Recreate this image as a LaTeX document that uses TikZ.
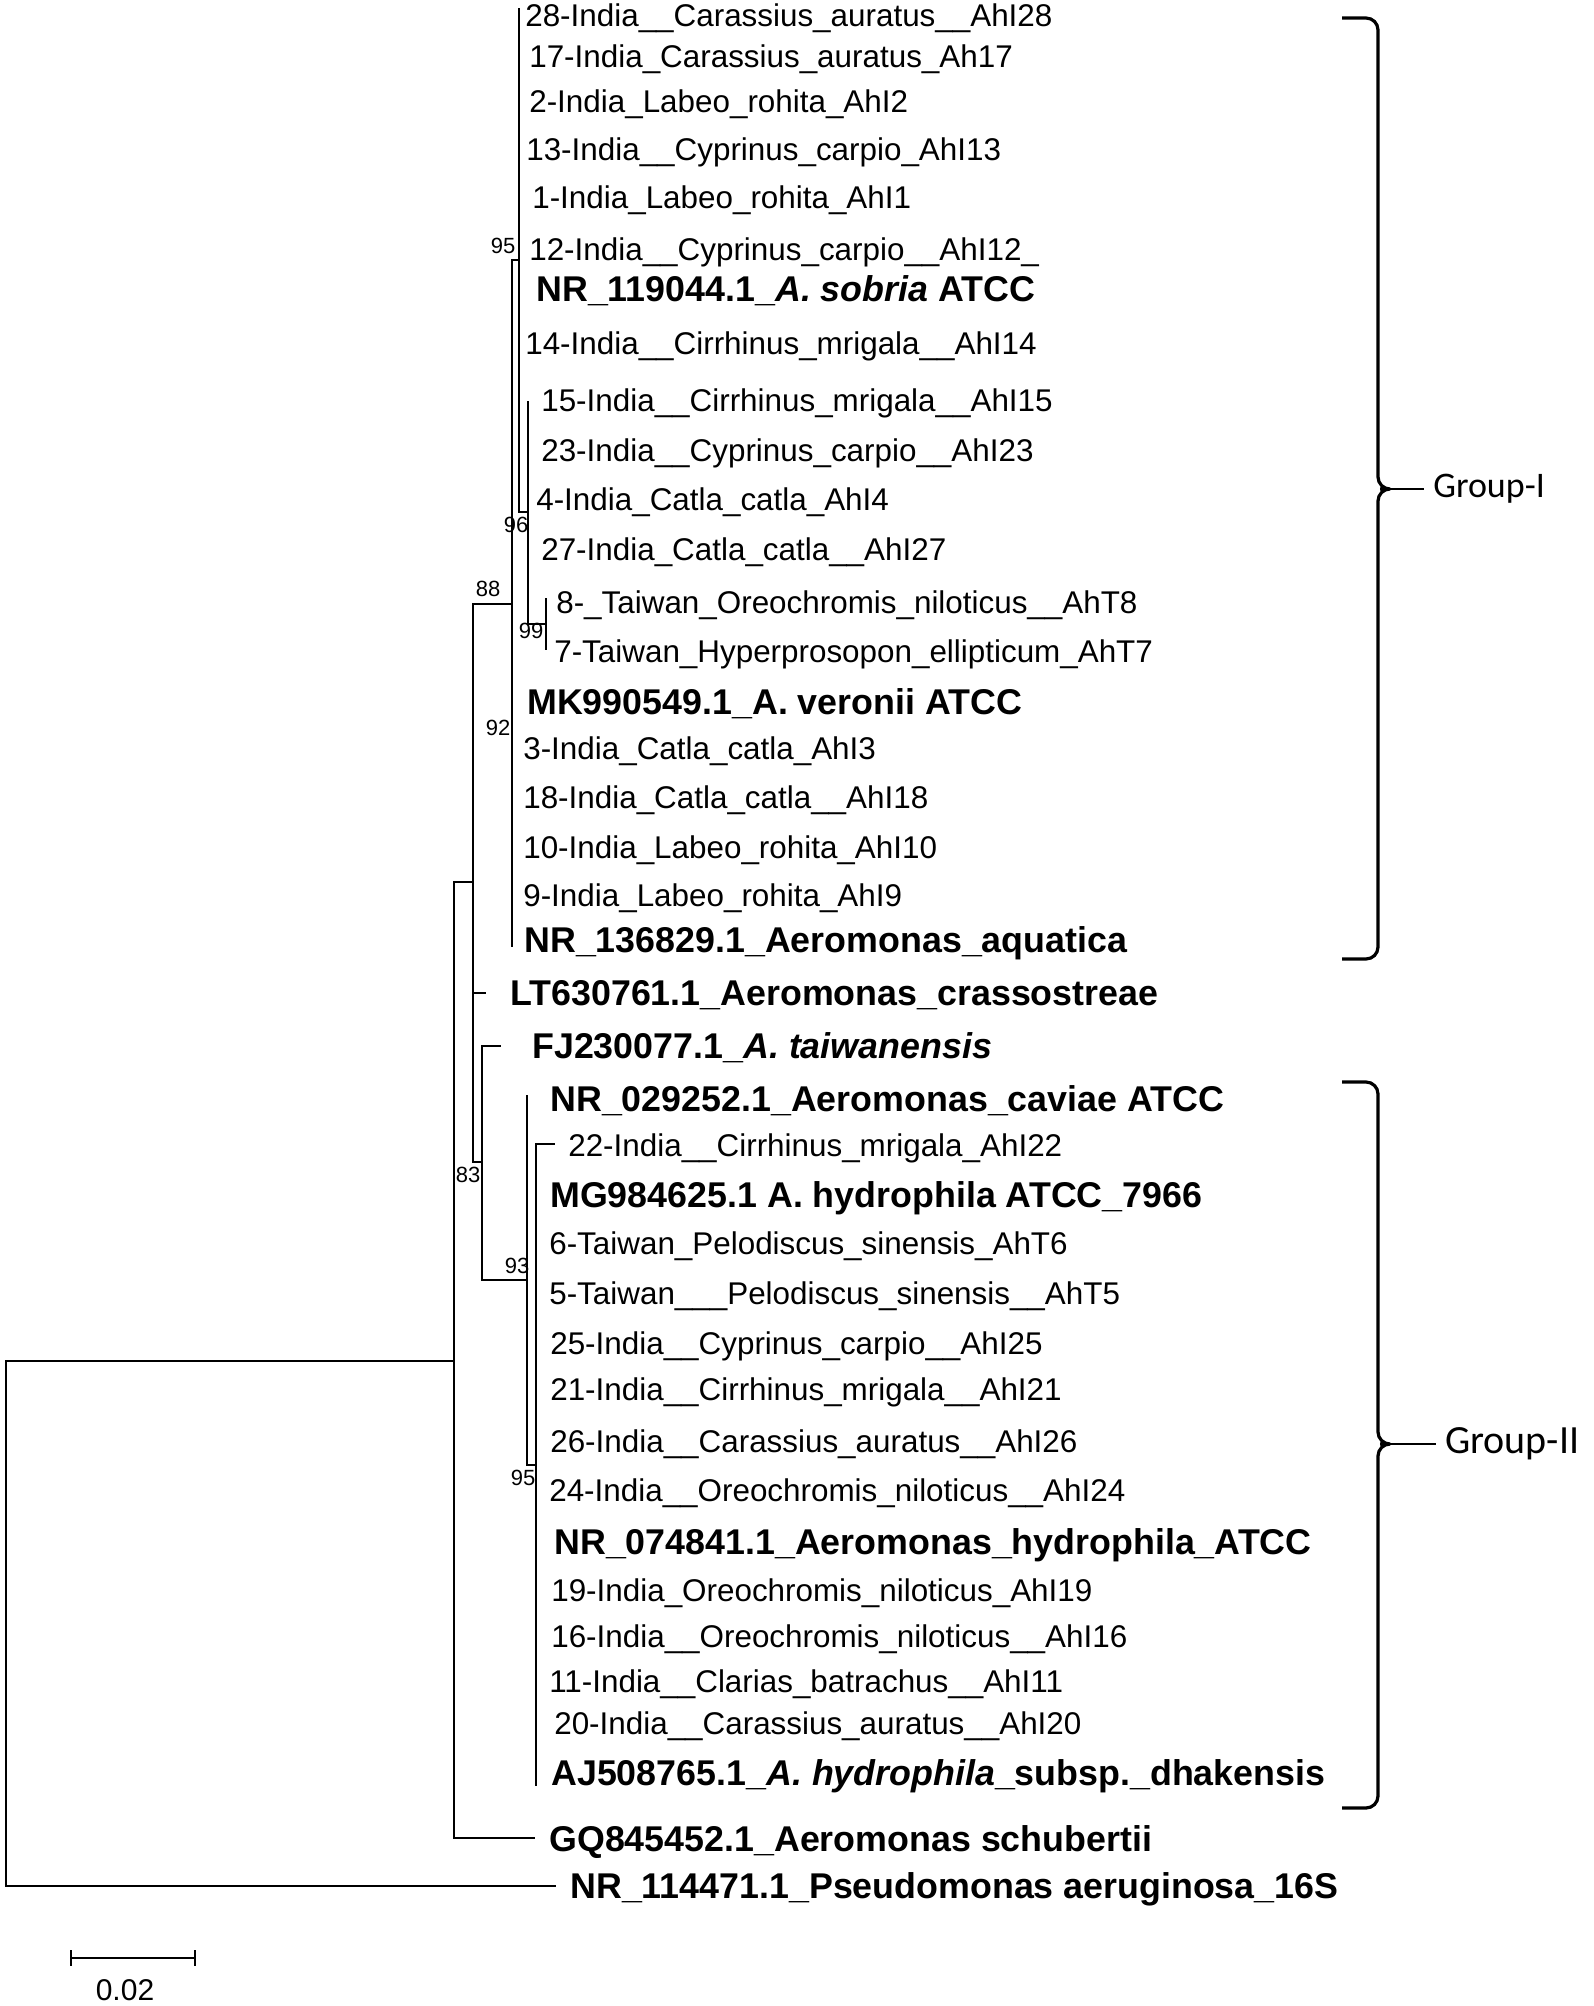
\documentclass[tikz,border=0pt]{standalone}
\usepackage{fontspec}
\setmainfont{Liberation Sans}
\newfontfamily\groupfont{Carlito}
\usetikzlibrary{positioning}

\begin{document}
\begin{tikzpicture}[x=0.5pt, y=-0.5pt, line width=1.3pt,
    isolate/.style={anchor=mid west, inner sep=0pt, font=\fontsize{15.7}{18}\selectfont},
    reference/.style={anchor=mid west, inner sep=0pt, font=\fontsize{17.9}{20}\selectfont\bfseries},
    boot/.style={inner sep=0pt, font=\fontsize{11}{12}\selectfont},
    group/.style={anchor=mid west, inner sep=0pt, font=\groupfont\fontsize{18}{22}\selectfont},
    brace/.style={line width=1.6pt, rounded corners=6pt}]
  \useasboundingbox (0,0) rectangle (1594,2006);

  % group I leaves
  \node[isolate] (s28) at (524,21) {28-India\_\_Carassius\_auratus\_\_AhI28};
  \node[isolate] (s17) at (528,62) {17-India\_Carassius\_auratus\_Ah17};
  \node[isolate] (s2) at (528,107) {2-India\_Labeo\_rohita\_AhI2};
  \node[isolate] (s13) at (525,155) {13-India\_\_Cyprinus\_carpio\_AhI13};
  \node[isolate] (s1) at (531,203) {1-India\_Labeo\_rohita\_AhI1};
  \node[isolate] (s12) at (528,255) {12-India\_\_Cyprinus\_carpio\_\_AhI12\_};
  \node[reference] (NR119044) at (535,296) {NR\_119044.1\_\textit{A. sobria} ATCC};
  \node[isolate] (s14) at (524,349) {14-India\_\_Cirrhinus\_mrigala\_\_AhI14};
  \node[isolate] (s15) at (540,406) {15-India\_\_Cirrhinus\_mrigala\_\_AhI15};
  \node[isolate] (s23) at (540,456) {23-India\_\_Cyprinus\_carpio\_\_AhI23};
  \node[isolate] (s4) at (535,505) {4-India\_Catla\_catla\_AhI4};
  \node[isolate] (s27) at (540,555) {27-India\_Catla\_catla\_\_AhI27};
  \node[isolate] (s8) at (555,608) {8-\_Taiwan\_Oreochromis\_niloticus\_\_AhT8};
  \node[isolate] (s7) at (553,657) {7-Taiwan\_Hyperprosopon\_ellipticum\_AhT7};
  \node[reference] (MK990549) at (526,709) {MK990549.1\_A. veronii ATCC};
  \node[isolate] (s3) at (522,754) {3-India\_Catla\_catla\_AhI3};
  \node[isolate] (s18) at (522,803) {18-India\_Catla\_catla\_\_AhI18};
  \node[isolate] (s10) at (522,853) {10-India\_Labeo\_rohita\_AhI10};
  \node[isolate] (s9) at (522,901) {9-India\_Labeo\_rohita\_AhI9};
  \node[reference] (NR136829) at (523,947) {NR\_136829.1\_Aeromonas\_aquatica};
  \node[reference] (LT630761) at (509,1000) {LT630761.1\_Aeromonas\_crassostreae};
  \node[reference] (FJ230077) at (531,1053) {FJ230077.1\_\textit{A. taiwanensis}};

  % group II leaves
  \node[reference] (NR029252) at (549,1106) {NR\_029252.1\_Aeromonas\_caviae ATCC};
  \node[isolate] (s22) at (567,1151) {22-India\_\_Cirrhinus\_mrigala\_AhI22};
  \node[reference] (MG984625) at (549,1202) {MG984625.1 A. hydrophila ATCC\_7966};
  \node[isolate] (s6) at (548,1249) {6-Taiwan\_Pelodiscus\_sinensis\_AhT6};
  \node[isolate] (s5) at (548,1299) {5-Taiwan\_\_\_Pelodiscus\_sinensis\_\_AhT5};
  \node[isolate] (s25) at (549,1349) {25-India\_\_Cyprinus\_carpio\_\_AhI25};
  \node[isolate] (s21) at (549,1395) {21-India\_\_Cirrhinus\_mrigala\_\_AhI21};
  \node[isolate] (s26) at (549,1447) {26-India\_\_Carassius\_auratus\_\_AhI26};
  \node[isolate] (s24) at (548,1496) {24-India\_\_Oreochromis\_niloticus\_\_AhI24};
  \node[reference] (NR074841) at (553,1549) {NR\_074841.1\_Aeromonas\_hydrophila\_ATCC};
  \node[isolate] (s19) at (550,1596) {19-India\_Oreochromis\_niloticus\_AhI19};
  \node[isolate] (s16) at (550,1642) {16-India\_\_Oreochromis\_niloticus\_\_AhI16};
  \node[isolate] (s11) at (548,1687) {11-India\_\_Clarias\_batrachus\_\_AhI11};
  \node[isolate] (s20) at (553,1729) {20-India\_\_Carassius\_auratus\_\_AhI20};
  \node[reference] (AJ508765) at (550,1780) {AJ508765.1\_\textit{A. hydrophila}\_subsp.\_dhakensis};
  \node[reference] (GQ845452) at (548,1846) {GQ845452.1\_Aeromonas schubertii};
  \node[reference] (NR114471) at (569,1893) {NR\_114471.1\_Pseudomonas aeruginosa\_16S};

  % internal nodes and branch tips
  \coordinate (root) at (6,1624);
  \coordinate (nIn) at (454,1361);
  \coordinate (nC) at (473,882);
  \coordinate (n88) at (512,604);
  \coordinate (n95a) at (519,260);
  \coordinate (n96) at (528,512);
  \coordinate (n99) at (546,624);
  \coordinate (n83) at (482,1162);
  \coordinate (n93) at (527,1280);
  \coordinate (n95b) at (536,1465);
  \coordinate (t28) at (519,8);
  \coordinate (tAq) at (512,947);
  \coordinate (t15) at (528,401);
  \coordinate (t8) at (546,598);
  \coordinate (t7) at (546,650);
  \coordinate (tCav) at (527,1095);
  \coordinate (tAJ) at (536,1786);
  \coordinate (tLT) at (486,993);
  \coordinate (tFJ) at (501,1046);
  \coordinate (t22) at (555,1144);
  \coordinate (tGQ) at (535,1838);
  \coordinate (tPs) at (556,1886);

  \draw (root) |- (nIn) (root) |- (tPs);
  \draw (nIn) |- (nC) (nIn) |- (tGQ);
  \draw (nC) |- (n88) (nC) |- (tLT) (nC) |- (n83);
  \draw (n88) |- (n95a) (n88) |- (tAq);
  \draw (n95a) |- (t28) (n95a) |- (n96);
  \draw (n96) |- (t15) (n96) |- (n99);
  \draw (n99) |- (t8) (n99) |- (t7);
  \draw (n83) |- (tFJ) (n83) |- (n93);
  \draw (n93) |- (tCav) (n93) |- (n95b);
  \draw (n95b) |- (t22) (n95b) |- (tAJ);

  % bootstrap values
  \node[boot] (b95a) at (503,246) {95};
  \node[boot] (b88) at (488,589) {88};
  \node[boot] (b96) at (516,525) {96};
  \node[boot] (b99) at (531,631) {99};
  \node[boot] (b92) at (498,728) {92};
  \node[boot] (b83) at (468,1175) {83};
  \node[boot] (b93) at (517,1266) {93};
  \node[boot] (b95b) at (523,1478) {95};

  % groups
  \coordinate (tipI) at (1424,489);
  \draw[brace] (1342,18) -- (1378,18) -- (1378,489) -- (1392,489) -- (1378,489) -- (1378,959) -- (1342,959);
  \draw (1390,489) -- (tipI);
  \node[group, right=4pt of tipI] (gI) {Group-I};
  \coordinate (tipII) at (1436,1444);
  \draw[brace] (1342,1082) -- (1378,1082) -- (1378,1444) -- (1392,1444) -- (1378,1444) -- (1378,1808) -- (1342,1808);
  \draw (1390,1444) -- (tipII);
  \node[group, font=\groupfont\fontsize{20}{24}\selectfont, right=4pt of tipII] (gII) {Group-II};

  % scale bar
  \coordinate (sbL) at (71,1958);
  \coordinate (sbR) at (195,1958);
  \coordinate (sbM) at (125,1958);
  \draw (sbL) -- (sbR);
  \draw ([yshift=4pt]sbL) -- ([yshift=-4pt]sbL);
  \draw ([yshift=4pt]sbR) -- ([yshift=-4pt]sbR);
  \node[inner sep=0pt, font=\fontsize{15}{18}\selectfont, below=10pt of sbM] (sbT) {0.02};
\end{tikzpicture}
\end{document}
